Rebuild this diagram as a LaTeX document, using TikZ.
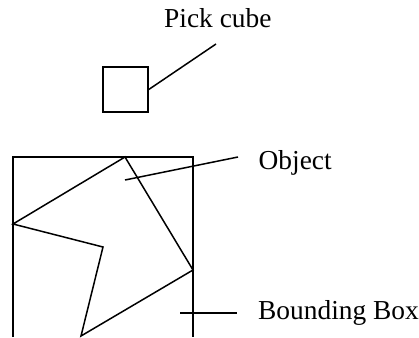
\documentclass[tikz,border=0pt]{standalone}
\usepackage{fontspec}
\setmainfont{Liberation Serif}
\begin{document}
\begin{tikzpicture}[x=1pt,y=-1pt,
  ln/.style={line width=1.5pt,line join=miter},
  lbl/.style={inner sep=0pt,anchor=base west,font=\fontsize{27.4}{30}\selectfont}]
\useasboundingbox (0,0) rectangle (419,337);
% pick cube
\node[draw,ln,minimum width=45pt,minimum height=45pt,inner sep=0pt] (cube) at (125.5,89.5) {};
\node[lbl] (pick) at (164,28) {Pick cube};
\coordinate (pickend) at (216,44);
\draw[ln] (cube.east) -- (pickend);
% bounding box (open at bottom)
\coordinate (bbl) at (13,337);
\coordinate (bbtl) at (13,157);
\coordinate (bbtr) at (193,157);
\coordinate (bbr) at (193,337);
\draw[ln] (bbl) -- (bbtl) -- (bbtr) -- (bbr);
% object polygon
\coordinate (p1) at (125,157);
\coordinate (p2) at (13,224);
\coordinate (p3) at (103,247);
\coordinate (p4) at (81,336);
\coordinate (p5) at (193,270);
\draw[ln] (p1) -- (p2) -- (p3) -- (p4) -- (p5) -- cycle;
% labels
\node[lbl] (obj) at (258.5,169) {Object};
\coordinate (objin) at (125,180);
\coordinate (objend) at (238,157);
\draw[ln] (objin) -- (objend);
\node[lbl] (bb) at (258,319.5) {Bounding Box};
\coordinate (bbin) at (180,313);
\coordinate (bbend) at (237,313);
\draw[ln] (bbin) -- (bbend);
\end{tikzpicture}
\end{document}
